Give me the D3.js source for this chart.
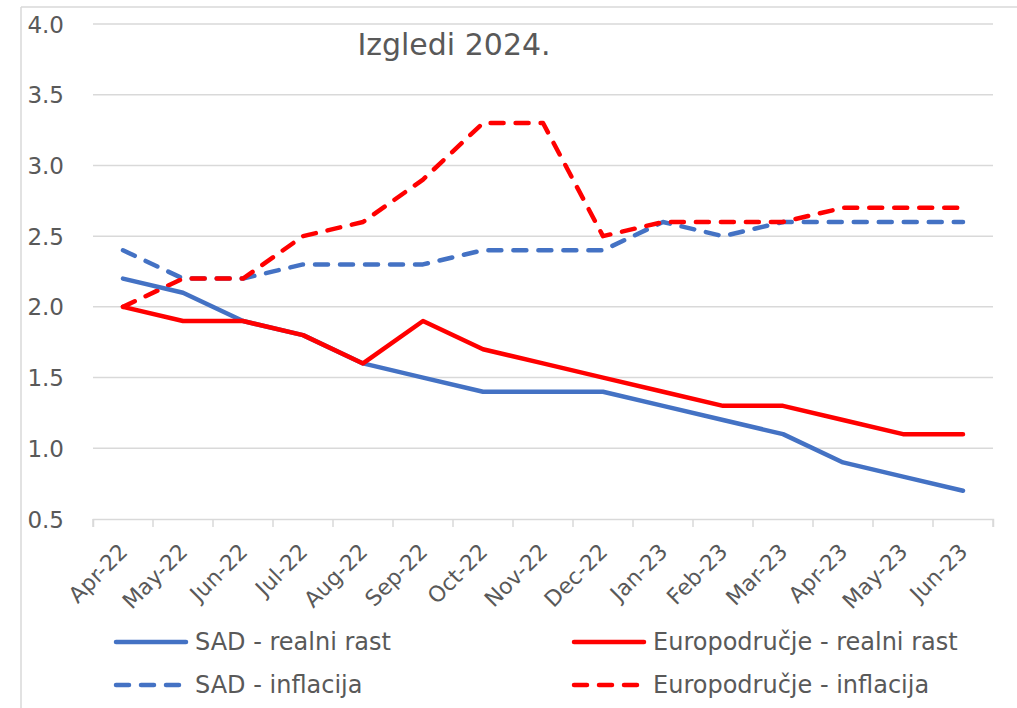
<!DOCTYPE html>
<html>
<head>
<meta charset="utf-8">
<script src="https://cdn.jsdelivr.net/npm/d3@7"></script>
<style>
	body { margin: 0; background: #fff; }
	svg text { font-family: "DejaVu Sans", sans-serif; fill: #595959; }
</style>
</head>
<body>
<div id="chart"></div>
<script>
'use strict';

// data
let months = ['Apr-22', 'May-22', 'Jun-22', 'Jul-22', 'Aug-22', 'Sep-22', 'Oct-22', 'Nov-22', 'Dec-22', 'Jan-23', 'Feb-23', 'Mar-23', 'Apr-23', 'May-23', 'Jun-23'];
let sad_rast = [2.2, 2.1, 1.9, 1.8, 1.6, 1.5, 1.4, 1.4, 1.4, 1.3, 1.2, 1.1, 0.9, 0.8, 0.7];
let eu_rast = [2.0, 1.9, 1.9, 1.8, 1.6, 1.9, 1.7, 1.6, 1.5, 1.4, 1.3, 1.3, 1.2, 1.1, 1.1];
let sad_infl = [2.4, 2.2, 2.2, 2.3, 2.3, 2.3, 2.4, 2.4, 2.4, 2.6, 2.5, 2.6, 2.6, 2.6, 2.6];
let eu_infl = [2.0, 2.2, 2.2, 2.5, 2.6, 2.9, 3.3, 3.3, 2.5, 2.6, 2.6, 2.6, 2.7, 2.7, 2.7];
let y_ticks = [0.5, 1.0, 1.5, 2.0, 2.5, 3.0, 3.5, 4.0];
let title = 'Izgledi 2024.';

let series = [
	{name: 'SAD - realni rast', vals: sad_rast, color: '#4472C4', dash: null},
	{name: 'Europodručje - realni rast', vals: eu_rast, color: '#FF0000', dash: null},
	{name: 'SAD - inflacija', vals: sad_infl, color: '#4472C4', dash: '13,12'},
	{name: 'Europodručje - inflacija', vals: eu_infl, color: '#FF0000', dash: '13,12'},
];

let W = 1017, H = 708;
let svg = d3.select('#chart').append('svg').attr('width', W).attr('height', H);

// outer frame (only left and top edges visible)
svg.append('line').attr('x1', 21).attr('y1', 7).attr('x2', W).attr('y2', 7).attr('stroke', '#d9d9d9').attr('stroke-width', 1.5);
svg.append('line').attr('x1', 21).attr('y1', 7).attr('x2', 21).attr('y2', H).attr('stroke', '#d9d9d9').attr('stroke-width', 1.5);

let x = d3.scaleBand().domain(months).range([93, 993]);
let y = d3.scaleLinear().domain([0.5, 4.0]).range([519, 24]);

// grid
svg.append('g').selectAll('line').data(y_ticks.filter(d => d > 0.5)).enter()
	.append('line')
	.attr('x1', 93).attr('x2', 993)
	.attr('y1', d => y(d)).attr('y2', d => y(d))
	.attr('stroke', '#d9d9d9').attr('stroke-width', 1.5);

// y labels
svg.append('g').selectAll('text').data(y_ticks).enter()
	.append('text')
	.attr('x', 64).attr('y', d => y(d) + 8.5)
	.attr('text-anchor', 'end')
	.style('font-size', '23px')
	.text(d => d.toFixed(1));

// x axis
let xa = svg.append('g').attr('transform', 'translate(0,' + y(0.5) + ')')
	.call(d3.axisBottom(x).tickSize(8).tickSizeOuter(8).tickFormat(''));
xa.select('.domain').attr('stroke', '#d9d9d9').attr('stroke-width', 1.5);
xa.selectAll('.tick line').attr('stroke', '#d9d9d9').attr('stroke-width', 1.5)
	.attr('transform', 'translate(' + (-x.bandwidth() / 2) + ',0)');
// closing tick at the far right
xa.append('line').attr('x1', 993).attr('x2', 993).attr('y1', 0).attr('y2', 8).attr('stroke', '#d9d9d9').attr('stroke-width', 1.5);

svg.append('g').selectAll('text').data(months).enter()
	.append('text')
	.attr('transform', d => 'translate(' + (x(d) + x.bandwidth() / 2 + 6) + ',' + 553 + ') rotate(-45)')
	.attr('text-anchor', 'end')
	.style('font-size', '22px')
	.text(d => d);

// lines
let line = d3.line()
	.x((d, i) => x(months[i]) + x.bandwidth() / 2)
	.y(d => y(d));

let order = [2, 3, 0, 1];
for (let k = 0; k < order.length; ++k) {
	let s = series[order[k]];
	let p = svg.append('path')
		.datum(s.vals)
		.attr('d', line)
		.attr('fill', 'none')
		.attr('stroke', s.color)
		.attr('stroke-width', 4.5)
		.attr('stroke-linejoin', 'round')
		.attr('stroke-linecap', 'round');
	if (s.dash) {
		p.attr('stroke-dasharray', s.dash);
	}
}

// title
svg.append('text')
	.attr('x', 454).attr('y', 55)
	.attr('text-anchor', 'middle')
	.style('font-size', '30px')
	.text(title);

// legend
let leg = [
	{s: series[0], x: 116, y: 642},
	{s: series[1], x: 574, y: 642},
	{s: series[2], x: 116, y: 685},
	{s: series[3], x: 574, y: 685},
];
for (let i = 0; i < leg.length; ++i) {
	let l = leg[i];
	let ln = svg.append('line')
		.attr('x1', l.x).attr('x2', l.x + 70)
		.attr('y1', l.y).attr('y2', l.y)
		.attr('stroke', l.s.color)
		.attr('stroke-width', 4.5)
		.attr('stroke-linecap', 'round');
	if (l.s.dash) {
		ln.attr('stroke-dasharray', l.s.dash);
	}
	svg.append('text')
		.attr('x', l.x + 79).attr('y', l.y + 8)
		.style('font-size', '24px')
		.text(l.s.name);
}
</script>
</body>
</html>
